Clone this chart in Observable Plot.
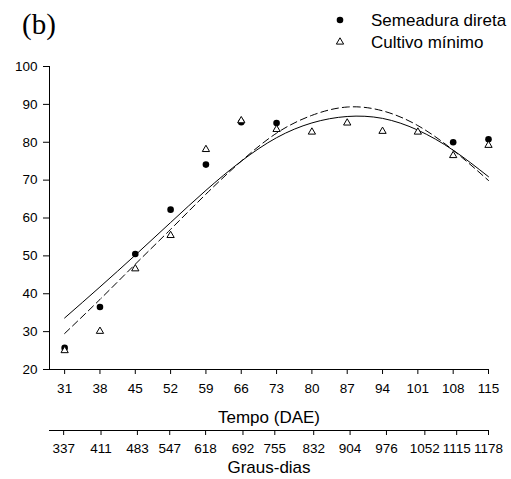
<!DOCTYPE html>
<html><head><meta charset="utf-8">
<script src="https://cdn.jsdelivr.net/npm/d3@7"></script>
<script src="https://cdn.jsdelivr.net/npm/@observablehq/plot@0.6"></script>
<style>
body{margin:0;background:#fff;}
#wrap{position:relative;width:511px;height:479px;font-family:"Liberation Sans",Arial,sans-serif;color:#000;}
#wrap svg{display:block}
.tag{position:absolute;left:22px;top:10px;font-family:"Liberation Serif","Times New Roman",serif;font-size:29px;line-height:1;}
.leg{position:absolute;left:333px;height:20px;font-size:17px;line-height:1;display:flex;align-items:center;white-space:nowrap}
.leg svg{margin-right:24px}
</style></head>
<body><div id="wrap">
<div class="tag">(b)</div>
<div class="leg" id="leg1" style="top:10px"></div>
<div class="leg" id="leg2" style="top:32px"></div>
<div id="main"></div>
<div id="second"></div>
</div>
<script>
const dae = [31,38,45,52,59,66,73,80,87,94,101,108,115];
const grausDias = [337,411,483,547,618,692,755,832,904,976,1052,1115,1178];
const semeaduraDireta = [25.7,36.5,50.5,62.2,74.1,85.3,85.1,null,null,null,null,80.0,80.8];
const cultivoMinimo = [25.0,30.1,46.6,55.4,78.1,85.7,83.4,82.7,85.1,82.9,82.7,76.5,79.2];
const ajusteSemeadura = [33.6,41.8,50.2,58.8,67.3,75.0,81.2,85.1,86.8,86.3,83.2,77.9,70.9];
const ajusteCultivo = [29.5,38.5,47.8,57.0,66.3,75.0,82.4,87.1,89.3,88.3,84.4,77.9,69.9];
const yTicks = [20,30,40,50,60,70,80,90,100];
const legendLabels = ["Semeadura direta","Cultivo mínimo"];

const sd = dae.map((d,i)=>({x:d,y:semeaduraDireta[i]})).filter(d=>d.y!=null);
const cm = dae.map((d,i)=>({x:d,y:cultivoMinimo[i]}));
const fitS = dae.map((d,i)=>({x:d,y:ajusteSemeadura[i]}));
const fitC = dae.map((d,i)=>({x:d,y:ajusteCultivo[i]}));

const DOT_R = 3.3, TRI_R = 2.7;
const style = {fontSize:"13.5px",fontFamily:"'Liberation Sans',Arial,sans-serif",color:"#000",background:"#fff",overflow:"visible"};

const main = Plot.plot({
  width:511, height:425,
  marginLeft:49, marginRight:23, marginTop:66, marginBottom:56,
  style,
  x:{domain:[28,115], ticks:dae, tickSize:5, tickPadding:9, label:null, tickFormat:d=>String(d)},
  y:{domain:[20,100], ticks:yTicks, tickSize:6, tickPadding:6, label:null, tickFormat:d=>String(d)},
  marks:[
    Plot.ruleY([20],{stroke:"#000"}),
    Plot.ruleX([28],{stroke:"#000"}),
    Plot.line(fitS,{x:"x",y:"y",curve:"natural",stroke:"#000",strokeWidth:1}),
    Plot.line(fitC,{x:"x",y:"y",curve:"natural",stroke:"#000",strokeWidth:1,strokeDasharray:"7,4"}),
    Plot.dot(sd,{x:"x",y:"y",r:DOT_R,fill:"#000",stroke:"none",symbol:"circle"}),
    Plot.dot(cm,{x:"x",y:"y",r:TRI_R,fill:"#fff",stroke:"#000",strokeWidth:1,symbol:"triangle"}),
    Plot.text(["Tempo (DAE)"],{frameAnchor:"bottom",lineAnchor:"middle",dy:48,fontSize:17,text:d=>d,fill:"#000"})
  ]
});
document.getElementById("main").appendChild(main);

const second = Plot.plot({
  width:511, height:54,
  marginLeft:49, marginRight:23, marginTop:4, marginBottom:49,
  style,
  x:{domain:[309,1178], ticks:grausDias, tickSize:5, tickPadding:8, label:null, tickFormat:d=>String(d)},
  y:{domain:[0,1], axis:null},
  marks:[
    Plot.ruleY([0],{stroke:"#000"}),
    Plot.text(["Graus-dias"],{frameAnchor:"bottom",lineAnchor:"middle",dy:37,fontSize:17,text:d=>d,fill:"#000"})
  ]
});
document.getElementById("second").appendChild(second);

// legend
function sym(type, r, fill, stroke){
  const size = Math.PI*r*r;
  const p = d3.symbol().type(type).size(size)();
  return `<svg width="14" height="14" viewBox="-7 -7 14 14"><path d="${p}" fill="${fill}" stroke="${stroke}" stroke-width="1"/></svg>`;
}
document.getElementById("leg1").innerHTML = sym(d3.symbolCircle, DOT_R, "#000", "none") + `<span>${legendLabels[0]}</span>`;
document.getElementById("leg2").innerHTML = sym(d3.symbolTriangle, TRI_R, "#fff", "#000") + `<span>${legendLabels[1]}</span>`;
</script>
</body></html>
